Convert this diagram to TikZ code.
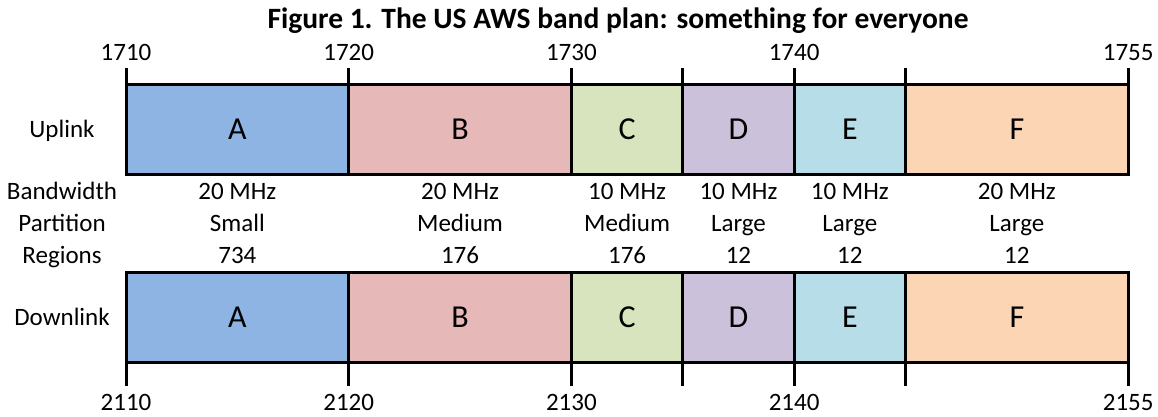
\documentclass[tikz,border=0pt]{standalone}
\usepackage{fontspec}
\setmainfont{Carlito}
\definecolor{cA}{HTML}{8EB4E3}
\definecolor{cB}{HTML}{E6B9B8}
\definecolor{cC}{HTML}{D7E4BD}
\definecolor{cD}{HTML}{CCC1DA}
\definecolor{cE}{HTML}{B7DEE8}
\definecolor{cF}{HTML}{FCD5B5}
\begin{document}
\begin{tikzpicture}[x=1pt,y=-1pt,
  band/.style={draw=black,line width=3pt,inner sep=0pt,outer sep=0pt,minimum height=90pt},
  lbl/.style={anchor=base,inner sep=0pt,font=\fontsize{25}{30}\selectfont},
  tick/.style={line width=3pt}]
\useasboundingbox (0,0) rectangle (1158,416);
\node[anchor=base,inner sep=0pt,font=\bfseries\fontsize{29.5}{34}\selectfont] (title) at (618,28) {Figure 1. The US AWS band plan: something for everyone};
% band edges
\def\eA{126}\def\eB{348.7}\def\eC{571.4}\def\eD{682.8}\def\eE{794.1}\def\eF{905.5}\def\eG{1128.2}
\foreach \row/\yc in {u/129,d/317}{
  \node[band,fill=cA,minimum width=222.7pt] (\row A) at ({(\eA+\eB)/2},\yc) {};
  \node[band,fill=cB,minimum width=222.7pt] (\row B) at ({(\eB+\eC)/2},\yc) {};
  \node[band,fill=cC,minimum width=111.4pt] (\row C) at ({(\eC+\eD)/2},\yc) {};
  \node[band,fill=cD,minimum width=111.3pt] (\row D) at ({(\eD+\eE)/2},\yc) {};
  \node[band,fill=cE,minimum width=111.4pt] (\row E) at ({(\eE+\eF)/2},\yc) {};
  \node[band,fill=cF,minimum width=222.7pt] (\row F) at ({(\eF+\eG)/2},\yc) {};
}
% band letters
\foreach \row/\yb in {u/139.5,d/327.5}{
  \foreach \L in {A,B,C,D,E,F}{
    \node[anchor=base,inner sep=0pt,font=\fontsize{32}{38}\selectfont] (\row\L t) at (\row\L.center |- 0,\yb) {\L};
  }
}
% ticks
\foreach \x in {\eA,\eB,\eC,\eD,\eE,\eF,\eG}{
  \draw[tick] (\x,68) -- (\x,84);
  \draw[tick] (\x,362) -- (\x,386);
}
% frequency labels
\node[lbl] (f1710) at (\eA,60) {1710};
\node[lbl] (f1720) at (\eB,60) {1720};
\node[lbl] (f1730) at (\eC,60) {1730};
\node[lbl] (f1740) at (\eE,60) {1740};
\node[lbl] (f1755) at (\eG,60) {1755};
\node[lbl] (f2110) at (\eA,410) {2110};
\node[lbl] (f2120) at (\eB,410) {2120};
\node[lbl] (f2130) at (\eC,410) {2130};
\node[lbl] (f2140) at (\eE,410) {2140};
\node[lbl] (f2155) at (\eG,410) {2155};
% row labels
\node[lbl] (lup) at (62,137) {Uplink};
\node[lbl] (lbw) at (62,199) {Bandwidth};
\node[lbl] (lpa) at (62,231) {Partition};
\node[lbl] (lre) at (62,263) {Regions};
\node[lbl] (ldn) at (62,325) {Downlink};
% info
\foreach \L/\bw/\pa/\re in {A/20 MHz/Small/734,B/20 MHz/Medium/176,C/10 MHz/Medium/176,D/10 MHz/Large/12,E/10 MHz/Large/12,F/20 MHz/Large/12}{
  \node[lbl] (bw\L) at (u\L.center |- 0,199) {\bw};
  \node[lbl] (pa\L) at (u\L.center |- 0,231) {\pa};
  \node[lbl] (re\L) at (u\L.center |- 0,263) {\re};
}
\end{tikzpicture}
\end{document}
